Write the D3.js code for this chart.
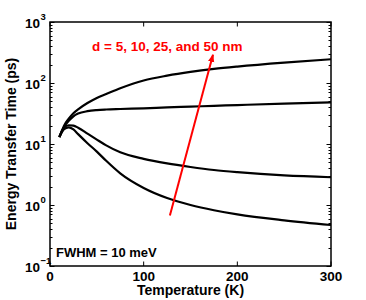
<!DOCTYPE html>
<html>
<head>
<meta charset="utf-8">
<script src="https://cdn.jsdelivr.net/npm/d3@7"></script>
<style>
  body { margin: 0; background: #fff; }
  svg text { font-family: "Liberation Sans", Arial, Helvetica, sans-serif; font-weight: bold; }
</style>
</head>
<body>
<svg width="366" height="300"></svg>
<script>
var temps = [10, 15, 20, 25, 30, 40, 50, 60, 75, 100, 125, 150, 175, 200, 250, 300];
// energy transfer time (ps) for each well spacing d
var d50 = [13, 20, 26, 32, 37, 47, 57, 66, 82, 110, 132, 152, 170, 186, 216, 245];
var d25 = [13, 19, 24, 28.5, 31.5, 34.5, 36, 36.8, 37.5, 38.5, 39.8, 41, 42.2, 43.5, 46, 48];
var d10 = [13, 18.5, 20.3, 20, 18.5, 14.8, 11.8, 9.5, 7.3, 5.7, 4.8, 4.2, 3.75, 3.45, 3.05, 2.85];
var d5  = [13, 17.5, 18.8, 17.3, 14.5, 10.3, 7.5, 5.3, 3.3, 1.9, 1.3, 1.0, 0.82, 0.70, 0.56, 0.47];
var series = [d50, d25, d10, d5];

var xTicks = [0, 100, 200, 300];
var yExps = [-1, 0, 1, 2, 3];
var arrowFrom = [128, 0.67], arrowTo = [174, 290];

var svg = d3.select("svg");
var margin = {left: 50, right: 35, top: 22, bottom: 34};
var W = 366, H = 300;

var x = d3.scaleLinear().domain([0, 300]).range([margin.left, W - margin.right]);
var y = d3.scaleLog().domain([0.1, 1000]).range([H - margin.bottom, margin.top]);

// minor + major y ticks, inward on both sides
var minor = [];
for (var e = -1; e < 3; e++) {
  for (var m = 2; m <= 9; m++) minor.push(m * Math.pow(10, e));
}
var tk = svg.append("g").attr("stroke", "black").attr("stroke-width", 1);
tk.selectAll(".ymin").data(minor).enter().append("path")
  .attr("d", function(d) {
    var yy = Math.round(y(d)) + 0.5;
    return "M" + x(0) + "," + yy + "h2.5M" + x(300) + "," + yy + "h-2.5";
  });
tk.selectAll(".ymaj").data(yExps).enter().append("path")
  .attr("d", function(d) {
    var yy = Math.round(y(Math.pow(10, d))) + 0.5;
    return "M" + x(0) + "," + yy + "h4.5M" + x(300) + "," + yy + "h-4.5";
  });
tk.selectAll(".xmaj").data(xTicks).enter().append("path")
  .attr("d", function(d) {
    return "M" + x(d) + "," + y(0.1) + "v-4.5M" + x(d) + "," + y(1000) + "v4.5";
  });

// curves
var line = d3.line()
  .x(function(d, i) { return x(temps[i]); })
  .y(function(d) { return y(d); })
  .curve(d3.curveMonotoneX);

svg.append("g").selectAll("path").data(series).enter().append("path")
  .attr("d", line)
  .attr("fill", "none")
  .attr("stroke", "black")
  .attr("stroke-width", 2.2);

// frame
svg.append("rect")
  .attr("x", x(0)).attr("y", y(1000))
  .attr("width", x(300) - x(0)).attr("height", y(0.1) - y(1000))
  .attr("fill", "none").attr("stroke", "black").attr("stroke-width", 1.5);

// tick labels
svg.append("g").selectAll("text").data(xTicks).enter().append("text")
  .attr("x", function(d) { return x(d); })
  .attr("y", 280.5)
  .attr("text-anchor", "middle")
  .attr("font-size", 13.5)
  .text(function(d) { return d; });

var yl = svg.append("g").selectAll("text").data(yExps).enter().append("text")
  .attr("x", 40)
  .attr("y", function(d) { return y(Math.pow(10, d)) + 5.7; })
  .attr("text-anchor", "end")
  .attr("font-size", 13.5);
yl.append("tspan").text("10");
svg.append("g").selectAll("text").data(yExps).enter().append("text")
  .attr("x", 40.5)
  .attr("y", function(d) { return y(Math.pow(10, d)) - 2; })
  .attr("font-size", 9.5)
  .text(function(d) { return d < 0 ? "\u2212" + (-d) : d; });

// axis titles
svg.append("text")
  .attr("x", x(150)).attr("y", 295)
  .attr("text-anchor", "middle").attr("font-size", 14)
  .text("Temperature (K)");
svg.append("text")
  .attr("transform", "translate(16," + ((y(0.1) + y(1000)) / 2) + ") rotate(-90)")
  .attr("text-anchor", "middle").attr("font-size", 14)
  .text("Energy Transfer Time (ps)");

// annotations
svg.append("text")
  .attr("x", 56).attr("y", 257)
  .attr("font-size", 13)
  .text("FWHM = 10 meV");

svg.append("defs").append("marker")
  .attr("id", "ah").attr("viewBox", "0 0 10 10")
  .attr("refX", 9).attr("refY", 5)
  .attr("markerWidth", 4).attr("markerHeight", 4)
  .attr("orient", "auto")
  .append("path").attr("d", "M0,1L10,5L0,9z").attr("fill", "#ff0000");

svg.append("line")
  .attr("x1", x(arrowFrom[0])).attr("y1", y(arrowFrom[1]))
  .attr("x2", x(arrowTo[0])).attr("y2", y(arrowTo[1]))
  .attr("stroke", "#ff0000").attr("stroke-width", 2)
  .attr("marker-end", "url(#ah)");

svg.append("text")
  .attr("x", 92).attr("y", 50.5)
  .attr("font-size", 13.5)
  .attr("fill", "#ff0000")
  .text("d = 5, 10, 25, and 50 nm");
</script>
</body>
</html>
